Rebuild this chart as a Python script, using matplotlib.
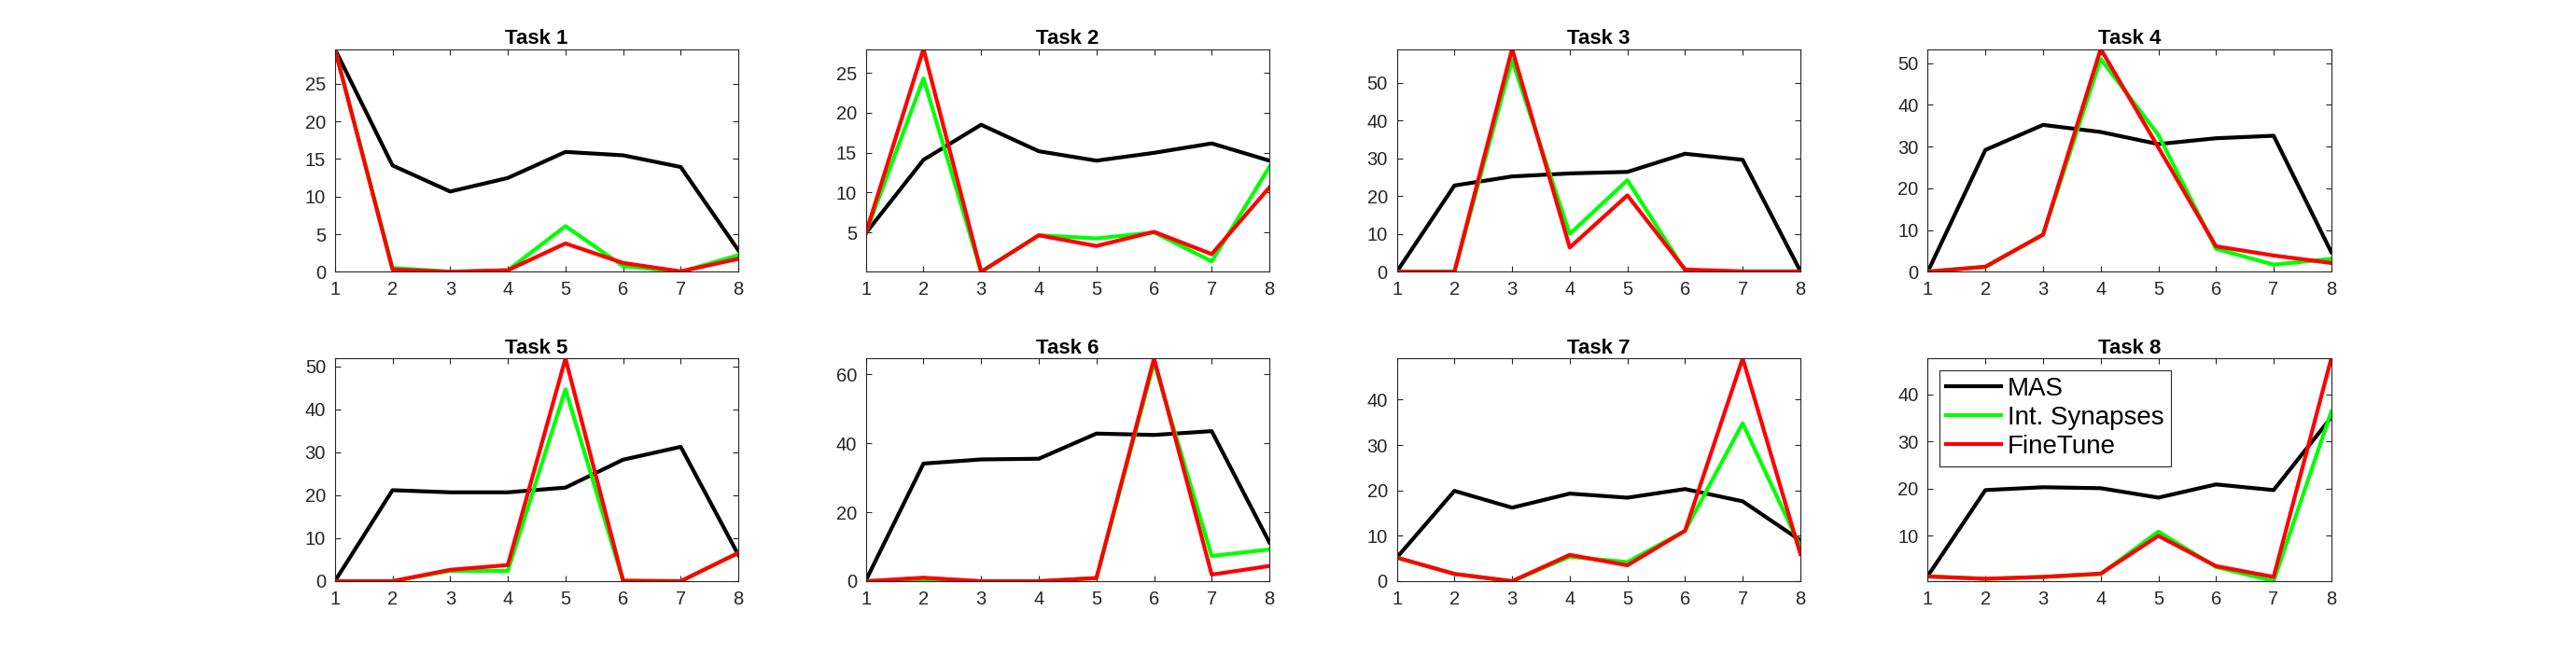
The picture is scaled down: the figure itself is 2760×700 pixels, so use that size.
import numpy as np
import matplotlib
matplotlib.use('Agg')
import matplotlib.pyplot as plt
from matplotlib.ticker import MultipleLocator

plt.rcParams['font.family'] = ['Liberation Sans', 'DejaVu Sans']

tasks = ['Task 1', 'Task 2', 'Task 3', 'Task 4', 'Task 5', 'Task 6', 'Task 7', 'Task 8']
x = [1, 2, 3, 4, 5, 6, 7, 8]
methods = ['MAS', 'Int. Synapses', 'FineTune']

# values, one row per task
mas = [
    [29.65, 14.15, 10.68, 12.48, 15.95, 15.5, 13.94, 2.85],
    [4.92, 14.1, 18.5, 15.18, 14.0, 14.98, 16.16, 14.0],
    [0.0, 22.8, 25.2, 26.0, 26.4, 31.2, 29.6, 0.2],
    [0.0, 29.2, 35.2, 33.5, 30.6, 32.0, 32.6, 4.7],
    [0.0, 21.2, 20.7, 20.7, 21.8, 28.3, 31.3, 6.1],
    [0.2, 34.1, 35.3, 35.5, 42.8, 42.4, 43.5, 11.25],
    [5.2, 19.9, 16.2, 19.3, 18.4, 20.3, 17.6, 9.0],
    [1.5, 19.7, 20.3, 20.1, 18.1, 20.9, 19.7, 35.1],
]
synapses = [
    [29.65, 0.5, 0.0, 0.2, 6.07, 0.75, 0.0, 2.2],
    [4.92, 24.3, 0.07, 4.64, 4.25, 5.0, 1.37, 13.2],
    [0.0, 0.0, 56.0, 10.0, 24.2, 0.3, 0.0, 0.0],
    [0.1, 1.2, 8.9, 51.0, 32.8, 5.5, 1.7, 3.1],
    [0.0, 0.0, 2.4, 2.4, 44.7, 0.1, 0.0, 6.6],
    [0.0, 0.3, 0.0, 0.0, 0.9, 63.4, 7.3, 9.2],
    [5.2, 1.6, 0.0, 5.4, 4.2, 11.1, 34.8, 7.6],
    [1.4, 0.9, 1.3, 1.9, 10.9, 3.4, 0.4, 36.3],
]
finetune = [
    [29.65, 0.3, 0.0, 0.2, 3.77, 1.17, 0.05, 1.72],
    [4.92, 28.0, 0.07, 4.64, 3.3, 5.08, 2.28, 10.64],
    [0.0, 0.0, 58.9, 6.4, 20.2, 0.6, 0.1, 0.1],
    [0.0, 1.2, 8.9, 53.4, 29.8, 6.1, 3.9, 2.1],
    [0.0, 0.0, 2.65, 3.75, 51.9, 0.1, 0.0, 6.6],
    [0.0, 1.0, 0.0, 0.0, 0.9, 64.6, 1.9, 4.4],
    [5.2, 1.6, 0.0, 5.8, 3.5, 11.1, 49.1, 6.0],
    [1.4, 0.9, 1.3, 2.0, 10.0, 3.6, 1.3, 47.6],
]
ytick_step = [5, 5, 10, 10, 10, 20, 10, 10]

colors = ['black', (0, 1, 0), (1, 0, 0)]
axcol = (0.15, 0.15, 0.15)

fig = plt.figure(figsize=(27.6, 7), dpi=100)

# matlab style subplot(2,4,k) positions
colw = 0.775 / 3.76
rowh = 0.815 / 1.72
axw = colw * (1 - 0.2 - 0.04)
axh = rowh * (1 - 0.18 - 0.1)

for k in range(8):
    r = k // 4
    c = k % 4
    left = 0.13 + c * colw
    bottom = 0.11 + (1 - r) * rowh
    ax = fig.add_axes([left, bottom, axw, axh])
    series = [mas[k], synapses[k], finetune[k]]
    for s, col, name in zip(series, colors, methods):
        ax.plot(x, s, color=col, lw=3.0, label=name)
    allv = np.array(series)
    ax.set_xlim(1, 8)
    ax.set_ylim(allv.min(), allv.max())
    ax.set_xticks(x)
    ax.yaxis.set_major_locator(MultipleLocator(ytick_step[k]))
    ax.tick_params(direction='in', top=True, right=True, length=4.5, width=0.8,
                   labelsize=14.5, colors=axcol, pad=7)
    for sp in ax.spines.values():
        sp.set_color(axcol)
        sp.set_linewidth(0.8)
    ax.set_title(tasks[k], fontsize=16, fontweight='bold', pad=4)
    if k == 7:
        leg = ax.legend(loc='upper left', fontsize=20, fancybox=False, framealpha=1,
                        edgecolor=axcol, handlelength=2.1, borderaxespad=0.45,
                        labelspacing=0.18, handletextpad=0.25, borderpad=0.27)
        leg.get_frame().set_linewidth(0.8)

fig.savefig('out.png', dpi=100)
